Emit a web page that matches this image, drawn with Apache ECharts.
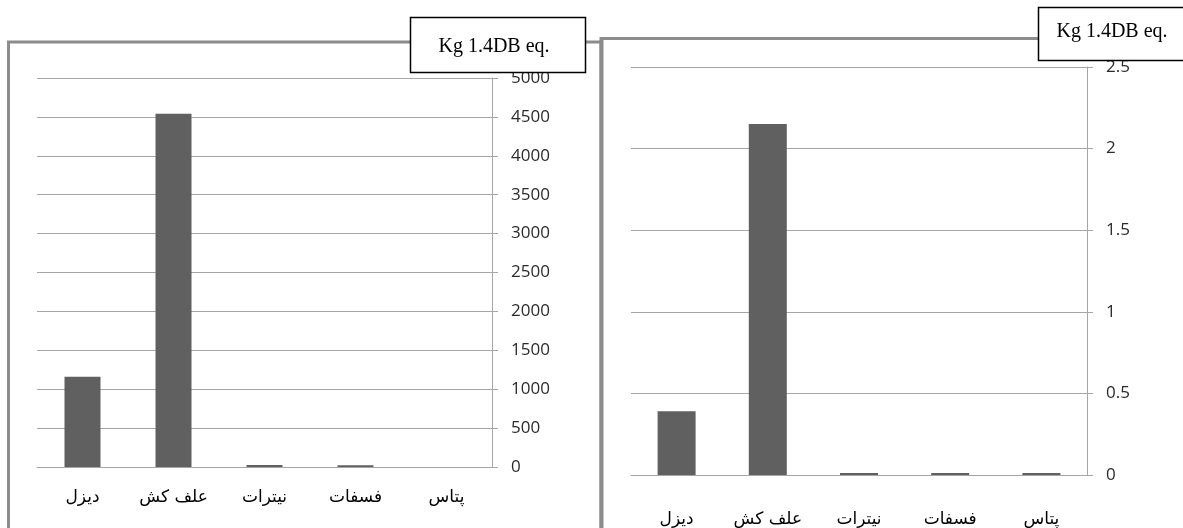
<!DOCTYPE html>
<html>
<head>
<meta charset="utf-8">
<script src="https://cdn.jsdelivr.net/npm/echarts@6/dist/echarts.min.js"></script>
<style>
  html, body { margin: 0; padding: 0; background: #fff; }
  #chart { width: 1183px; height: 528px; }
</style>
</head>
<body>
<div id="chart"></div>
<script>
// Inputs (categories shared by both panels)
const categories = ['دیزل', 'علف کش', 'نیترات', 'فسفات', 'پتاس'];

// Left panel values (Kg 1.4DB eq.)
const leftValues = [1160, 4540, 25, 22, 0];
const leftTicks = { min: 0, max: 5000, interval: 500 };

// Right panel values (Kg 1.4DB eq.)
const rightValues = [0.39, 2.15, 0.012, 0.012, 0.012];
const rightTicks = { min: 0, max: 2.5, interval: 0.5 };

const unitLabel = 'Kg 1.4DB eq.';

const GRID = '#a6a6a6';
const BAR = '#606060';
const FRAME = '#8c8c8c';
const LABEL = '#2b2b2b';

function catAxis(gridIndex, margin) {
  return {
    type: 'category',
    gridIndex: gridIndex,
    data: categories,
    axisLine: { show: true, lineStyle: { color: GRID, width: 1 } },
    axisTick: { show: false },
    axisLabel: {
      color: '#000',
      fontFamily: 'DejaVu Sans',
      fontSize: 17,
      margin: margin
    }
  };
}

function valAxis(gridIndex, t) {
  return {
    type: 'value',
    gridIndex: gridIndex,
    position: 'right',
    min: t.min,
    max: t.max,
    interval: t.interval,
    axisLine: { show: true, lineStyle: { color: GRID, width: 1 } },
    axisTick: { show: true, length: 6, lineStyle: { color: GRID } },
    splitLine: { show: true, lineStyle: { color: GRID, width: 1 } },
    axisLabel: {
      color: LABEL,
      fontFamily: 'Open Sans',
      fontSize: 17,
      margin: 19,
      formatter: function (v) { return String(v); }
    }
  };
}

const chart = echarts.init(document.getElementById('chart'), null, { renderer: 'canvas' });

chart.setOption({
  backgroundColor: '#ffffff',
  animation: false,
  grid: [
    { left: 37, top: 78, width: 455, height: 389 },
    { left: 631, top: 67, width: 456, height: 408 }
  ],
  xAxis: [catAxis(0, 22), catAxis(1, 36)],
  yAxis: [valAxis(0, leftTicks), valAxis(1, rightTicks)],
  series: [
    {
      type: 'bar',
      xAxisIndex: 0,
      yAxisIndex: 0,
      data: leftValues,
      barWidth: 36,
      itemStyle: { color: BAR }
    },
    {
      type: 'bar',
      xAxisIndex: 1,
      yAxisIndex: 1,
      data: rightValues,
      barWidth: 38,
      itemStyle: { color: BAR }
    }
  ],
  graphic: [
    // panel frames
    {
      type: 'polyline', z: 50, silent: true,
      shape: { points: [[8.5, 528], [8.5, 42], [601, 42]] },
      style: { fill: null, stroke: FRAME, lineWidth: 3 }
    },
    {
      type: 'polyline', z: 51, silent: true,
      shape: { points: [[601, 528], [601, 38.5], [1183, 38.5]] },
      style: { fill: null, stroke: FRAME, lineWidth: 3 }
    },
    {
      type: 'line', z: 51, silent: true,
      shape: { x1: 601.5, y1: 40, x2: 601.5, y2: 528 },
      style: { stroke: FRAME, lineWidth: 4 }
    },
    // unit boxes
    {
      type: 'rect', z: 60, silent: true,
      shape: { x: 410.5, y: 17.5, width: 175, height: 55 },
      style: { fill: '#ffffff', stroke: '#000000', lineWidth: 1.5 }
    },
    {
      type: 'text', z: 61, silent: true,
      x: 494, y: 47,
      style: {
        text: unitLabel, fill: '#000', font: '20px "Liberation Serif"',
        align: 'center', verticalAlign: 'middle'
      }
    },
    {
      type: 'rect', z: 60, silent: true,
      shape: { x: 1038.5, y: 7.5, width: 160, height: 53 },
      style: { fill: '#ffffff', stroke: '#000000', lineWidth: 1.5 }
    },
    {
      type: 'text', z: 61, silent: true,
      x: 1112, y: 32,
      style: {
        text: unitLabel, fill: '#000', font: '20px "Liberation Serif"',
        align: 'center', verticalAlign: 'middle'
      }
    }
  ]
});
</script>
</body>
</html>
